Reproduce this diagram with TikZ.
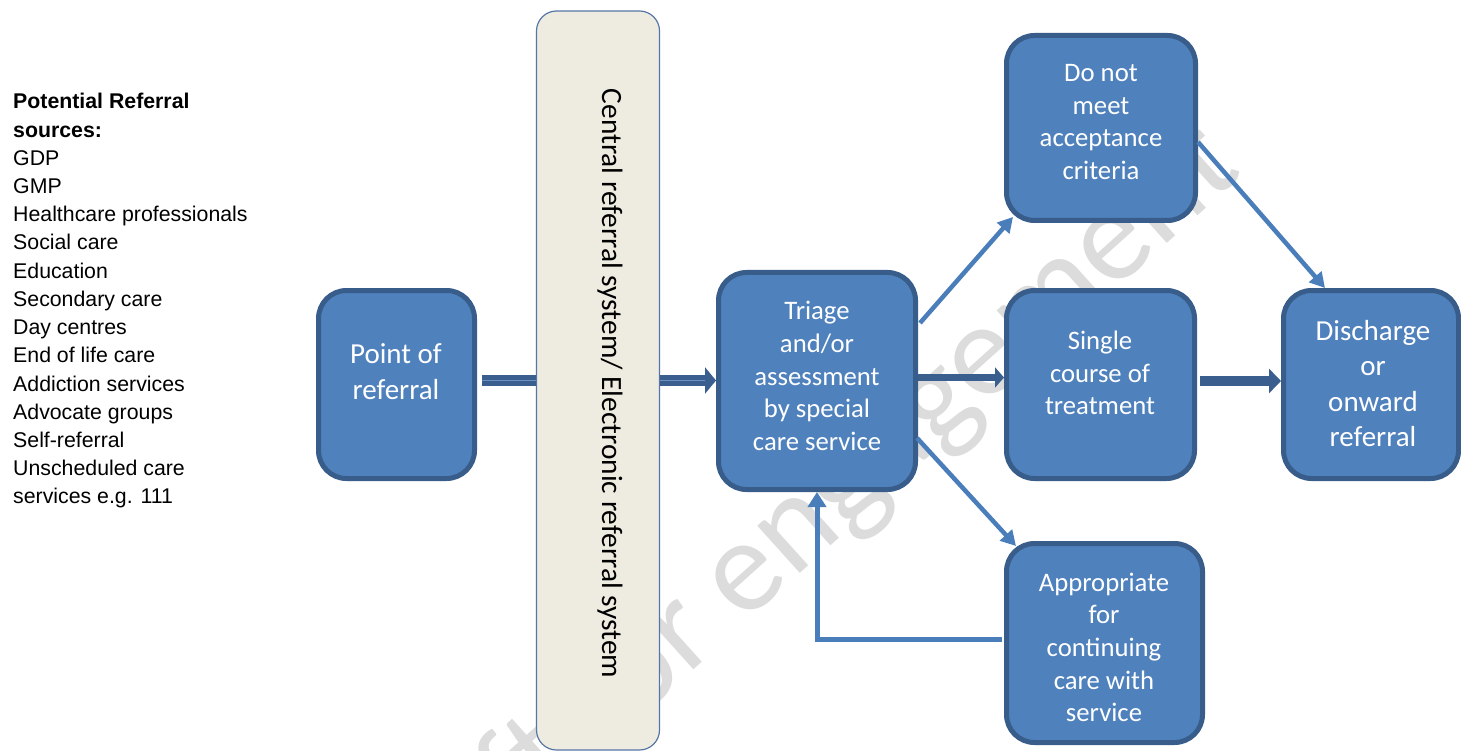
\documentclass[tikz,border=0pt]{standalone}
\usepackage{fontspec}
\setmainfont{Carlito}
\newfontfamily\arialf{Liberation Sans}
\usetikzlibrary{arrows.meta,calc}
\definecolor{boxfill}{HTML}{4F81BD}
\definecolor{boxline}{HTML}{385D8A}
\definecolor{cDark}{HTML}{3A5F8F}
\definecolor{cLight}{HTML}{6B8FC2}
\definecolor{cThin}{HTML}{4A7EBB}
\definecolor{cTan}{HTML}{EEECE1}
\definecolor{cTanLine}{HTML}{5776A6}
\definecolor{cWater}{HTML}{DCDCDC}
\begin{document}
\begin{tikzpicture}[x=1pt,y=-1pt,
  bluebox/.style={draw=boxline, fill=boxfill, line width=5pt, rounded corners=28pt, inner sep=0pt},
  boxtext/.style={text=white, align=center, inner sep=0pt, font=\fontsize{26.7}{32.7}\selectfont},
  bigtext/.style={text=white, align=center, inner sep=0pt, font=\fontsize{29}{35.5}\selectfont},
  legend/.style={anchor=base west, inner sep=0pt, font=\arialf\fontsize{21.3}{25}\selectfont},
  legendbold/.style={anchor=base west, inner sep=0pt, font=\arialf\bfseries\fontsize{21.3}{25}\selectfont},
  bandline/.style={draw=cDark, line width=11pt},
  bandcore/.style={draw=cLight, line width=1.4pt},
  thinarrow/.style={draw=cThin, line width=4.5pt, -{Triangle[length=15pt,width=16pt]}},
]
\useasboundingbox (0,0) rectangle (1461,751);
\fill[white] (0,0) rectangle (1461,751);

% watermark
\node[rotate=42, anchor=base, inner sep=0pt, text=cWater, font=\fontsize{133}{133}\selectfont] (wm) at (814,561) {Draft for engagement};

% legend
\node[legendbold] (src0) at (13,109) {Potential Referral};
\node[legendbold] (src1) at (13,137.2) {sources:};
\foreach \t [count=\i from 2] in {GDP, GMP, Healthcare professionals, Social care, Education, Secondary care, Day centres, End of life care, Addiction services, Advocate groups, Self-referral, Unscheduled care, services e.g. 111}
  \node[legend] (src\i) at (13,{109+28.2*\i}) {\t};

% central referral system
\node[draw=cTanLine, fill=cTan, line width=1.2pt, rounded corners=20pt, minimum width=123pt, minimum height=739pt, inner sep=0pt] (tan) at (598,380.5) {};
\node[rotate=-90, inner sep=0pt, font=\fontsize{29.4}{35}\selectfont] (tantext) at (610,383.5) {Central referral system/ Electronic referral system};

% blue boxes
\node[bluebox, minimum width=156pt, minimum height=188pt] (point) at (396.5,384.5) {};
\node[bigtext] (pointtext) at (396,371.5) {Point of\\referral};

\node[bluebox, minimum width=197pt, minimum height=217pt] (triage) at (817,381) {};
\node[boxtext] (triagetext) at (817,376) {Triage\\and/or\\assessment\\by special\\care service};

\node[bluebox, minimum width=189pt, minimum height=185pt] (dnm) at (1101,128) {};
\node[boxtext] (dnmtext) at (1101,122) {Do not\\meet\\acceptance\\criteria};

\node[bluebox, minimum width=188pt, minimum height=188pt] (single) at (1100.5,384.5) {};
\node[boxtext] (singletext) at (1100,373) {Single\\course of\\treatment};

\node[bluebox, minimum width=175pt, minimum height=188pt] (disc) at (1371,384.5) {};
\node[bigtext] (disctext) at (1373,383.5) {Discharge\\or\\onward\\referral};

\node[bluebox, minimum width=196pt, minimum height=199pt] (app) at (1104.5,643) {};
\node[boxtext] (apptext) at (1104,647.5) {Appropriate\\for\\continuing\\care with\\service};

% band arrows
\draw[bandline] ($(point.east |- tan.center)+(5,0)$) -- (tan.west);
\draw[bandcore] ($(point.east |- tan.center)+(5,0)$) -- (tan.west);
\draw[bandline, -{Triangle[length=11pt,width=26pt]}] (tan.east) -- (tan.east -| triage.west);
\draw[bandcore] (tan.east) -- ($(tan.east -| triage.west)+(-11,0)$);

\draw[draw=cDark, line width=7pt, -{Triangle[length=9pt,width=20pt]}] ($(triage.east)+(0,-3.5)$) -- ($(single.west)+(0,-7)$);
\draw[draw=cDark, line width=10pt, -{Triangle[length=12pt,width=24pt]}] ($(single.east)+(3,-3.5)$) -- ($(disc.west)+(0,-3.5)$);

% thin arrows
\draw[thinarrow] ($(triage.east)+(2,-58)$) -- ($(dnm.south west)+(9,-6)$);
\draw[thinarrow] ($(dnm.east)+(0,14)$) -- ($(disc.north)+(-46,0)$);
\draw[thinarrow] ($(triage.east)+(-1,57)$) -- ($(app.north west)+(12,5)$);
\draw[draw=cThin, line width=5pt, -{Triangle[length=15pt,width=18pt]}] ($(app.west)+(-2,-4)$) -| (triage.south);
\end{tikzpicture}
\end{document}
